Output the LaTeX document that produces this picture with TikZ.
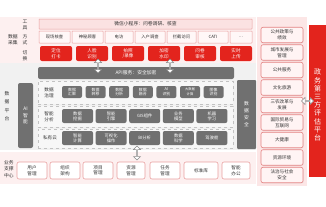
\documentclass[tikz,border=0pt]{standalone}
\usepackage{fontspec}
\setmainfont{Noto Sans CJK SC}
\usetikzlibrary{shapes.arrows,shadows}
\definecolor{pinkbg}{HTML}{FDF0F0}
\definecolor{topfill}{HTML}{FBE2E2}
\definecolor{pinkdraw}{HTML}{E9A0A0}
\definecolor{rowfill}{HTML}{FFF7F7}
\definecolor{myred}{HTML}{E3241D}
\definecolor{dgray}{HTML}{707070}
\definecolor{panelgray}{HTML}{F1F1F1}
\definecolor{dashgray}{HTML}{C2C2C2}
\definecolor{rightbg}{HTML}{FCE6E6}
\definecolor{rightdraw}{HTML}{E48484}
\definecolor{rightfill}{HTML}{FFF4F4}
\definecolor{txt}{HTML}{333333}
\definecolor{arrowgray}{HTML}{8A8A8A}
\tikzset{
  base/.style={rectangle, inner sep=0pt, align=center, font=\fontsize{4.3}{5}\selectfont},
  wh/.style 2 args={minimum width=#1pt, minimum height=#2pt},
  sbox/.style={base, rounded corners=1.5pt, fill=rowfill, draw=pinkdraw, line width=0.5pt, text=txt},
  rbox/.style={base, rounded corners=2pt, fill=myred, text=white, font=\fontsize{4.6}{5.6}\selectfont},
  gbox/.style={base, rounded corners=2pt, fill=dgray, text=white},
  dbox/.style={base, draw=dashgray, dashed, line width=0.5pt, fill=panelgray!60!white},
  lbl/.style={base, text=txt, font=\fontsize{4.8}{5.8}\selectfont},
  wbox/.style={base, rounded corners=2pt, fill=white, draw=pinkdraw, line width=0.6pt, text=txt, font=\fontsize{4.6}{5.6}\selectfont},
  fbox/.style={wbox, fill=rightfill, draw=rightdraw, drop shadow={opacity=0.15, shadow xshift=0.6pt, shadow yshift=-0.6pt}},
  dbl/.style={double arrow, draw=arrowgray, fill=white, line width=0.5pt, inner sep=0pt, minimum width=7pt, double arrow head extend=1.3pt},
}
\begin{document}
\begin{tikzpicture}[x=1pt, y=-1pt]
\useasboundingbox (0,0) rectangle (326,206);
% backgrounds
\fill[pinkbg] (0,17) rectangle (256,63);
\fill[panelgray] (0,63) rectangle (256,150);
\fill[pinkbg] (0,152) rectangle (256,184);
\fill[rightbg] (257,17) rectangle (307,186);
\node[base, fill=myred, wh={17}{152}] (evalp) at (317.5,101) {};
\node[base, text=white, font=\fontsize{7}{8.2}\selectfont] (evalt) at (317.5,105) {政\\务\\第\\三\\方\\评\\估\\平\\台};

% collection section
\node[lbl] (lcol) at (13,40) {数据\\采集};
\node[lbl, font=\fontsize{4.8}{6.3}\selectfont] (t1) at (25,25) {工\\具};
\node[lbl, font=\fontsize{4.8}{6.3}\selectfont] (t2) at (25,40) {方\\式};
\node[lbl, font=\fontsize{4.8}{6.3}\selectfont] (t3) at (25,56) {切\\换};
\node[sbox, fill=topfill, rounded corners=0.5pt, wh={213}{10}, font=\fontsize{4.8}{5.8}\selectfont] (mini) at (145.5,24) {微信小程序：问卷调研、核查};
\node[sbox, rounded corners=0.5pt, wh={31}{12}] (c1) at (54.5,37) {现场核查};
\node[sbox, rounded corners=0.5pt, wh={31}{12}] (c2) at (87.5,37) {神秘顾客};
\node[sbox, rounded corners=0.5pt, wh={28}{12}] (c3) at (119,37) {电访};
\node[sbox, rounded corners=0.5pt, wh={30}{12}] (c4) at (150,37) {入户调查};
\node[sbox, rounded corners=0.5pt, wh={29}{12}] (c5) at (181.5,37) {拦截访问};
\node[sbox, rounded corners=0.5pt, wh={30}{12}] (c6) at (213,37) {CATI};
\node[sbox, rounded corners=0.5pt, wh={22}{12}] (c7) at (241,37) {…};
\node[rbox, wh={32}{15}] (r1) at (56,53.5) {定位\\打卡};
\node[rbox, wh={32}{15}] (r2) at (92,53.5) {人脸\\识别};
\node[rbox, wh={32}{15}] (r3) at (128,53.5) {拍照\\/录像};
\node[rbox, wh={32}{15}] (r4) at (164,53.5) {加密\\水印};
\node[rbox, wh={32}{15}] (r5) at (200,53.5) {问卷\\审核};
\node[rbox, wh={32}{15}] (r6) at (236,53.5) {实时\\上传};

% platform
\node[lbl, font=\fontsize{4.8}{8.5}\selectfont] (lplat) at (7,106) {数\\据\\平\\台};
\node[gbox, wh={196}{12}, font=\fontsize{4.8}{5.8}\selectfont] (api) at (136,73) {API服务：安全加密};
\node[gbox, wh={15}{65}, font=\fontsize{4.8}{6.2}\selectfont] (ai) at (25.5,115.5) {AI\\智\\能};
\node[gbox, rounded corners=1pt, wh={19}{69}, font=\fontsize{4.8}{7}\selectfont] (sec) at (246.5,114.5) {数\\据\\安\\全};
\node[dbox, wh={195}{23}] (row1) at (135.5,92.5) {};
\node[dbox, wh={195}{21}] (row2) at (135.5,116.5) {};
\node[dbox, wh={195}{19}] (row3) at (135.5,138.5) {};
\node[lbl, font=\fontsize{4.6}{5.6}\selectfont] (l1) at (49,92.5) {数据\\治理};
\node[lbl, font=\fontsize{4.6}{5.6}\selectfont] (l2) at (49,116.5) {智能\\分析};
\node[lbl, font=\fontsize{4.6}{5.6}\selectfont] (l3) at (50,138) {私有云};
\node[gbox, wh={20}{12}, font=\fontsize{3.9}{4.6}\selectfont] (p1) at (72,92) {数据\\汇聚};
\node[gbox, wh={20}{12}, font=\fontsize{3.9}{4.6}\selectfont] (p2) at (95.6,92) {数据\\转移};
\node[gbox, wh={20}{12}, font=\fontsize{3.9}{4.6}\selectfont] (p3) at (119.2,92) {数据\\分析};
\node[gbox, wh={20}{12}, font=\fontsize{3.9}{4.6}\selectfont] (p4) at (142.8,92) {数据\\融合};
\node[gbox, wh={20}{12}, font=\fontsize{3.9}{4.6}\selectfont] (p5) at (166.4,92) {AI\\识别};
\node[gbox, wh={20}{12}, font=\fontsize{3.3}{4.6}\selectfont] (p6) at (190,92) {大数据\\计算};
\node[gbox, wh={20}{12}, font=\fontsize{3.9}{4.6}\selectfont] (p7) at (213.6,92) {图像\\识别};
\node[gbox, wh={31}{14}] (q1) at (77.5,116) {数据\\挖掘};
\node[gbox, wh={31}{14}] (q2) at (111.1,116) {智能\\引擎};
\node[gbox, wh={31}{14}] (q3) at (144.7,116) {GIS组件};
\node[gbox, wh={31}{14}] (q4) at (178.3,116) {业务\\模型};
\node[gbox, wh={31}{14}] (q5) at (211.9,116) {机器\\学习};
\node[gbox, wh={31}{14}] (s1) at (77.5,138) {智能\\计算};
\node[gbox, wh={31}{14}] (s2) at (111.1,138) {可视化\\操作};
\node[gbox, wh={31}{14}] (s3) at (144.7,138) {BI分析};
\node[gbox, wh={31}{14}] (s4) at (178.3,138) {数据\\科学};
\node[gbox, wh={31}{14}] (s5) at (211.9,138) {驾驶舱};

% bottom
\node[lbl, font=\fontsize{4.8}{6.3}\selectfont] (lbot) at (9,169) {业务\\支撑\\中心};
\node[wbox, wh={30}{17}] (b1) at (32,170.5) {用户\\管理};
\node[wbox, wh={30}{17}] (b2) at (65,170.5) {组织\\架构};
\node[wbox, wh={30}{17}] (b3) at (98,170.5) {项目\\管理};
\node[wbox, wh={28}{17}] (b4) at (131,170.5) {资源\\管理};
\node[wbox, wh={30}{17}] (b5) at (165,170.5) {任务\\管理};
\node[wbox, wh={34}{17}] (b6) at (201,170.5) {标准库};
\node[wbox, wh={28}{17}] (b7) at (236,170.5) {智能\\办公};

% right column
\node[fbox, wh={42}{15.5}] (f1) at (282,35) {公共政策与\\绩效};
\node[fbox, wh={42}{15.5}] (f2) at (282,52.5) {城市发展与\\管理};
\node[fbox, wh={42}{15.5}] (f3) at (282,70) {公共服务};
\node[fbox, wh={42}{15.5}] (f4) at (282,87.5) {文化旅游};
\node[fbox, wh={42}{15.5}] (f5) at (282,105) {三农改革与\\发展};
\node[fbox, wh={42}{15.5}] (f6) at (282,122.5) {国际贸易与\\互联网};
\node[fbox, wh={42}{15.5}] (f7) at (282,140) {大健康};
\node[fbox, wh={42}{15.5}] (f8) at (282,157.5) {资源环境};
\node[fbox, wh={42}{15.5}] (f9) at (282,175) {法治与社会\\安全};

% double arrows
\node[dbl, minimum height=14pt, shape border rotate=90] (a1) at (98,66) {};
\node[dbl, minimum height=14pt, shape border rotate=90] (a2) at (170,66) {};
\node[dbl, minimum height=14pt, shape border rotate=90] (a3) at (137,153) {};
\node[dbl, minimum height=12pt] (a4) at (307.5,101) {};
\end{tikzpicture}
\end{document}
